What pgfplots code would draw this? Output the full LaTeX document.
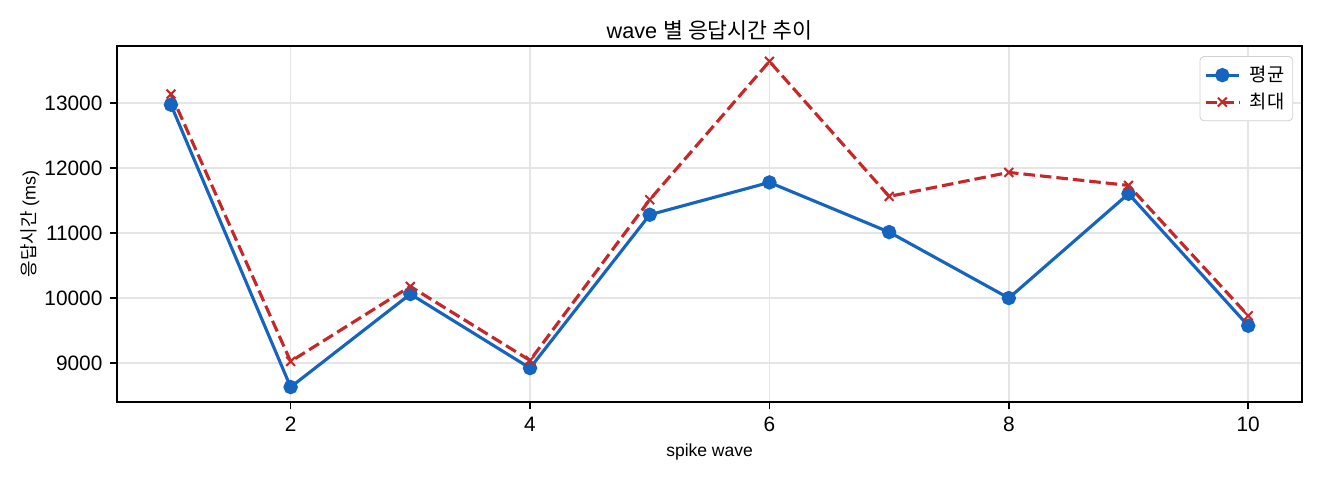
\documentclass[border=0pt]{standalone}
\usepackage{fontspec}
\setmainfont{Liberation Sans}
\newfontfamily\kr{Noto Sans CJK KR}
\usepackage{pgfplots}
\pgfplotsset{compat=1.18}

\definecolor{cavg}{HTML}{1565C0}
\definecolor{cmax}{HTML}{C62828}

\begin{document}
\begin{tikzpicture}
\begin{axis}[
    name=ax, at={(0,0)}, anchor=south west,
    scale only axis, width=568.8pt, height=170.9pt,
    xmin=0.55, xmax=10.45, ymin=8400, ymax=13877,
    xtick={2,4,6,8,10}, ytick={9000,10000,11000,12000,13000},
    scaled y ticks=false,
    /pgf/number format/1000 sep={},
    /pgf/number format/assume math mode=true,
    tick label style={font=\fontsize{10}{12}\selectfont},
    tick align=outside, xtick pos=left, ytick pos=left,
    major tick length=3.5pt,
    every tick/.style={black, line width=0.8pt},
    axis line style={line width=0.8pt},
    grid=major,
    grid style={black!10, line width=0.8pt},
    title={wave {\kr 별 응답시간 추이}},
    title style={font=\fontsize{10.4}{12}\selectfont, at={(axis description cs:0.5,1)}, anchor=center, yshift=1.7pt},
    xlabel={spike wave},
    xlabel style={font=\fontsize{8.4}{10}\selectfont, at={(axis description cs:0.5,0)}, anchor=center, yshift=-24pt},
    ylabel={{\kr 응답시간} (ms)},
    ylabel style={font=\fontsize{8.6}{10}\selectfont, at={(axis description cs:0,0.5)}, anchor=center, yshift=41.8pt},
    legend style={at={(axis description cs:0.9925,0.972)}, anchor=north east,
        draw=black!18, rounded corners=2pt, font=\kr\fontsize{9}{11}\selectfont,
        row sep=0pt, column sep=2.5pt, inner xsep=2pt, inner ysep=2.5pt},
    legend cell align=left,
    legend image code/.code={
        \draw[mark repeat=2, mark phase=2, #1] plot coordinates {(0pt,0pt) (8pt,0pt) (16pt,0pt)};
    },
]
\addplot[cavg, line width=1.5pt, mark=*, mark size=2.7pt, mark options={solid}]
    coordinates {
    (1,12974) (2,8631) (3,10062) (4,8923) (5,11282)
    (6,11779) (7,11015) (8,10000) (9,11605) (10,9574)
    };
\addlegendentry{평균}
\addplot[cmax, line width=1.5pt, dash pattern=on 5.55pt off 2.4pt, mark=x, mark size=3pt, mark options={solid, line width=1pt}]
    coordinates {
    (1,13138) (2,9026) (3,10179) (4,9041) (5,11513)
    (6,13641) (7,11564) (8,11933) (9,11733) (10,9728)
    };
\addlegendentry{최대}
\end{axis}
\pgfresetboundingbox
\path ([shift={(-56.2pt,-37.4pt)}]ax.south west) rectangle ([shift={(8.6pt,22.1pt)}]ax.north east);
\end{tikzpicture}
\end{document}
